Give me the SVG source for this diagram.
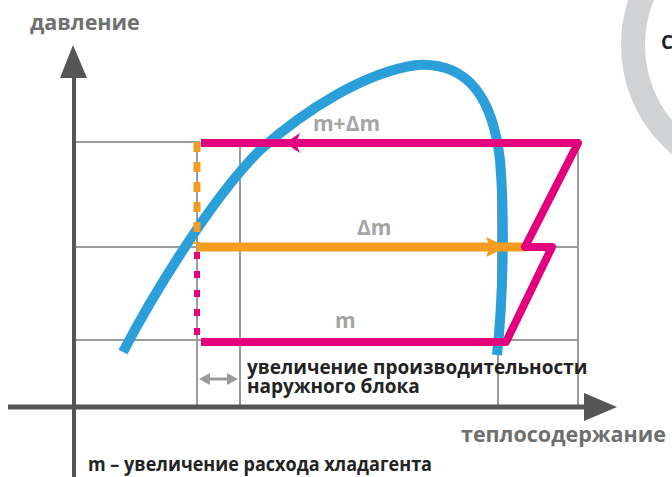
<svg xmlns="http://www.w3.org/2000/svg" width="672" height="477" viewBox="0 0 672 477">
<style>
.grid{stroke:#9b9b9b;stroke-width:2;fill:none}
.axis{stroke:#555;fill:none}
.t{font-family:"Open Sans","Liberation Sans",sans-serif;font-weight:bold}
.lbl{fill:#a4a4a4;font-size:21px}
.dark{fill:#232323;font-size:19px}
</style>
<rect width="672" height="477" fill="#fff"/>
<g id="ring">
<circle cx="764" cy="45" r="131" fill="none" stroke="#d1d2d4" stroke-width="24"/>
<text class="t" x="661" y="49" font-size="19" fill="#1e1e1e">С</text>
</g>
<g id="grid">
<line class="grid" x1="74" y1="142" x2="200" y2="142"/>
<line class="grid" x1="74" y1="247" x2="578" y2="247"/>
<line class="grid" x1="74" y1="340" x2="578" y2="340"/>
<line class="grid" x1="197" y1="142" x2="197" y2="406"/>
<line class="grid" x1="240" y1="142" x2="240" y2="406"/>
<line class="grid" x1="498" y1="142" x2="498" y2="406"/>
<line class="grid" x1="578" y1="142" x2="578" y2="406"/>
</g>
<g id="axes">
<line class="axis" x1="74" y1="72" x2="74" y2="477" stroke-width="4"/>
<polygon points="73,45 60,78 87,78" fill="#555"/>
<line class="axis" x1="8" y1="407" x2="590" y2="407" stroke-width="5"/>
<polygon points="617,407 584,393 584,421" fill="#555"/>
</g>
<g id="dome">
<path d="M123,352 C150,300 210,200 260,150 C305,110 365,72 417,65 C470,62 493,100 500,160 C505,220 503,300 497,355" fill="none" stroke="#2b9fd9" stroke-width="10"/>
</g>
<g id="connectors">
<line x1="197" y1="142" x2="197" y2="244" stroke="#f39c1f" stroke-width="7" stroke-dasharray="10 10"/>
<line x1="197" y1="252" x2="197" y2="340" stroke="#e4007c" stroke-width="6" stroke-dasharray="7 12"/>
<line x1="197" y1="247" x2="526" y2="247" stroke="#f39c1f" stroke-width="9"/>
<polygon points="507,247 486,237 490,247 486,257" fill="#f39c1f"/>
<polyline points="201,143 578,143 525,247 552,247 506,342 201,342" fill="none" stroke="#e4007c" stroke-width="8" stroke-linejoin="round"/>
<polygon points="285,143 300,133 296,143 300,153" fill="#e4007c"/>
<g stroke="#9b9b9b" fill="#9b9b9b">
<line x1="206" y1="379" x2="231" y2="379" stroke-width="3"/>
<polygon points="199,379 210,373 210,385" stroke="none"/>
<polygon points="238,379 227,373 227,385" stroke="none"/>
</g>
</g>
<g id="labels">
<text class="t" x="30" y="30" font-size="21.5" fill="#707070">давление</text>
<text class="t lbl" x="313" y="131">m+Δm</text>
<text class="t lbl" x="357" y="235">Δm</text>
<text class="t lbl" x="335" y="328">m</text>
<text class="t dark" x="247" y="374">увеличение производительности</text>
<text class="t dark" x="247" y="393">наружного блока</text>
<text class="t" x="461" y="442" font-size="21.5" fill="#6f6f6f">теплосодержание</text>
<text class="t" x="88" y="471" font-size="20" fill="#232323" textLength="344" lengthAdjust="spacingAndGlyphs">m – увеличение расхода хладагента</text>
</g>
</svg>
